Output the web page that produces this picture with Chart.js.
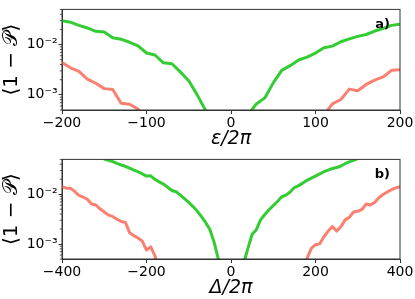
<!DOCTYPE html>
<html>
<head>
<meta charset="utf-8">
<script src="https://cdn.jsdelivr.net/npm/chart.js@4.4.0/dist/chart.umd.min.js"></script>
<style>
  body { margin: 0; background: #fff; }
  .panel { position: absolute; left: 0; width: 415px; }
  #top { top: 0; height: 150px; }
  #bottom { top: 150px; height: 149px; }
</style>
</head>
<body>
<div class="panel" id="top"><canvas id="chartEps" width="415" height="150"></canvas></div>
<div class="panel" id="bottom"><canvas id="chartDelta" width="415" height="149"></canvas></div>
<script>
// panel a) - x: epsilon/2pi
const epsValues = [-200, -190, -180, -170, -160, -150, -140, -130, -120, -110,
  -100, -90, -80, -70, -60, -50, -40, -30, -20, -10,
  0, 10, 20, 30, 40, 50, 60, 70, 80, 90,
  100, 110, 120, 130, 140, 150, 160, 170, 180, 190, 200];
const epsGreen = [0.0299, 0.0278, 0.024, 0.0214, 0.0183, 0.0178, 0.0137, 0.0128, 0.0111, 0.0094,
  0.0068, 0.0062, 0.00434, 0.00416, 0.00286, 0.00191, 0.0010, 0.00049, 0.00025, null,
  null, null, 0.0004, 0.00066, 0.00087, 0.00173, 0.00307, 0.00381, 0.00494, 0.00562,
  0.00678, 0.00866, 0.0093, 0.01138, 0.01296, 0.01454, 0.01585, 0.01857, 0.02084, 0.02405, 0.02548];
const epsRed = [0.0044, 0.00345, 0.00294, 0.00205, 0.0017, 0.00133, 0.00128, 0.00068, 0.00065, 0.00052,
  0.0003, null, null, null, null, null, null, null, null, null,
  null, null, null, null, null, null, null, null, null, null,
  null, 0.0004, 0.00066, 0.00081, 0.0013, 0.00121, 0.00161, 0.00197, 0.00227, 0.00307, 0.00316];
const epsTicks = [-200, -100, 0, 100, 200];

// panel b) - x: Delta/2pi
const deltaValues = [-400, -390, -380, -370, -360, -350, -340, -330, -320, -310,
  -300, -290, -280, -270, -260, -250, -240, -230, -220, -210,
  -200, -190, -180, -170, -160, -150, -140, -130, -120, -110,
  -100, -90, -80, -70, -60, -50, -40, -30, -20, -10,
  0, 10, 20, 30, 40, 50, 60, 70, 80, 90,
  100, 110, 120, 130, 140, 150, 160, 170, 180, 190,
  200, 210, 220, 230, 240, 250, 260, 270, 280, 290,
  300, 310, 320, 330, 340, 350, 360, 370, 380, 390, 400];
const deltaGreen = [null, null, null, null, null, null, null, null, null, 0.057,
  0.051, 0.0481, 0.0453, 0.0415, 0.0386, 0.0364, 0.0333, 0.0305, 0.0283, 0.0256,
  0.0231, 0.0234, 0.0199, 0.0177, 0.016, 0.0138, 0.0119, 0.0112, 0.00957, 0.00815,
  0.00683, 0.00565, 0.00459, 0.00353, 0.00271, 0.00196, 0.00109, 0.0005, 0.0002, null,
  null, null, null, 0.00041, 0.000815, 0.00157, 0.00194, 0.00305, 0.00391, 0.00487,
  0.0059, 0.00714, 0.00889, 0.00957, 0.0111, 0.0136, 0.0149, 0.0167, 0.019, 0.0211,
  0.0231, 0.0256, 0.0283, 0.0305, 0.0328, 0.0343, 0.0369, 0.0409, 0.0446, 0.0481,
  0.052, 0.057, null, null, null, null, null, null, null, null, null];
const deltaRed = [0.0142, 0.0132, 0.0132, 0.0114, 0.00944, 0.00877, 0.00791, 0.00635, 0.00607, 0.00509,
  0.0044, 0.0038, 0.00358, 0.00314, 0.00283, 0.00271, 0.00169, 0.00147, 0.00132, 0.00114,
  0.000757, 0.000877, 0.00058, 0.0003, null, null, null, null, null, null,
  null, null, null, null, null, null, null, null, null, null,
  null, null, null, null, null, null, null, null, null, null,
  null, null, null, null, null, null, null, 0.0003, 0.00051, 0.000815,
  0.00097, 0.00101, 0.0014, 0.00182, 0.00224, 0.00182, 0.00221, 0.00305, 0.00343, 0.0044,
  0.00453, 0.00494, 0.00635, 0.00607, 0.00683, 0.00851, 0.00986, 0.0111, 0.0123, 0.0134, 0.0142];
const deltaTicks = [-400, -200, 0, 200, 400];

// log y axis, same on both panels
const yRange = [5e-4, 5e-2];
const yMajor = [1e-3, 1e-2];
const yMinor = [5e-4, 6e-4, 7e-4, 8e-4, 9e-4, 2e-3, 3e-3, 4e-3, 5e-3, 6e-3, 7e-3, 8e-3, 9e-3, 2e-2, 3e-2, 4e-2, 5e-2];

const GREEN = '#33cc33';
const RED = '#fa8072';
const AXIS = '#333333';
const FONT = 'DejaVu Sans';

function toPoints(xs, ys) {
  return xs.map((x, i) => ({ x: x, y: ys[i] }));
}

function fmtTick(v) {
  return v < 0 ? '\u2212' + Math.abs(v) : String(v);
}

// box around plot, minor log ticks and the panel letter
const framePlugin = {
  id: 'frame',
  afterDraw(chart, args, opts) {
    const { ctx, chartArea: a } = chart;
    const y = chart.scales.y;
    ctx.save();
    ctx.strokeStyle = AXIS;
    ctx.lineWidth = 1;
    ctx.strokeRect(a.left, a.top, a.right - a.left, a.bottom - a.top);
    ctx.beginPath();
    yMinor.forEach(v => {
      const py = y.getPixelForValue(v);
      ctx.moveTo(a.left - 2.2, py);
      ctx.lineTo(a.left, py);
    });
    ctx.lineWidth = 0.8;
    ctx.stroke();
    ctx.fillStyle = '#000';
    ctx.font = 'bold 13px "' + FONT + '"';
    ctx.textAlign = 'right';
    ctx.textBaseline = 'middle';
    ctx.fillText(opts.label, a.right - 10, a.top + 15);
    ctx.restore();
  }
};

function makeChart(id, xs, green, red, xTicks, xTitle, label, padTop) {
  const ctx = document.getElementById(id).getContext('2d');
  return new Chart(ctx, {
    type: 'line',
    data: {
      datasets: [
        { data: toPoints(xs, green), borderColor: GREEN, borderWidth: 3, pointRadius: 0, clip: 0,
          borderJoinStyle: 'round', tension: 0 },
        { data: toPoints(xs, red), borderColor: RED, borderWidth: 3, pointRadius: 0, clip: 0,
          borderJoinStyle: 'round', tension: 0 }
      ]
    },
    options: {
      responsive: false,
      animation: false,
      layout: { padding: { top: padTop, right: 15, left: 0, bottom: 0 } },
      plugins: { legend: { display: false }, tooltip: { enabled: false }, frame: { label: label } },
      scales: {
        x: {
          type: 'linear',
          min: xTicks[0],
          max: xTicks[xTicks.length - 1],
          afterBuildTicks: s => { s.ticks = xTicks.map(v => ({ value: v })); },
          afterFit: s => { s.height = 40; },
          ticks: { callback: fmtTick, color: '#000', font: { family: FONT, size: 14 }, padding: 1,
                   autoSkip: false, maxRotation: 0 },
          grid: { drawOnChartArea: false, tickLength: 4, color: AXIS },
          border: { color: AXIS, width: 1 },
          title: { display: true, text: xTitle, color: '#000',
                   font: { family: FONT, size: 19, style: 'italic' }, padding: 0 }
        },
        y: {
          type: 'logarithmic',
          min: yRange[0],
          max: yRange[1],
          afterBuildTicks: s => { s.ticks = yMajor.map(v => ({ value: v })); },
          afterFit: s => { s.width = 62; },
          ticks: { callback: v => (v === 1e-2 ? '10\u207B\u00B2' : '10\u207B\u00B3'), color: '#000',
                   font: { family: FONT, size: 14 }, padding: 1, autoSkip: false },
          grid: { drawOnChartArea: false, tickLength: 3.5, color: AXIS },
          border: { color: AXIS, width: 1 },
          title: { display: true, text: '\u27E81 \u2212 \uD835\uDCAB\u27E9', color: '#000',
                   font: { family: FONT, size: 20 }, padding: 0 }
        }
      }
    },
    plugins: [framePlugin]
  });
}

makeChart('chartEps', epsValues, epsGreen, epsRed, epsTicks, '\u03B5/2\u03C0', 'a)', 4.3);
makeChart('chartDelta', deltaValues, deltaGreen, deltaRed, deltaTicks, '\u0394/2\u03C0', 'b)', 3.7);
</script>
</body>
</html>
